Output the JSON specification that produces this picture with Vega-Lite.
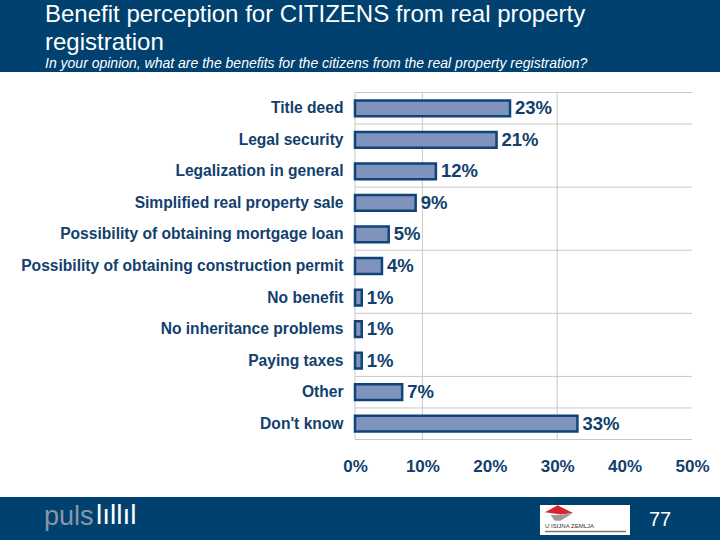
{
  "$schema": "https://vega.github.io/schema/vega-lite/v6.json",
  "autosize": "none",
  "width": 720,
  "height": 425,
  "padding": {"top": 72, "bottom": 43, "left": 0, "right": 0},
  "background": "#004170",
  "view": {"fill": "white", "stroke": null},
  "title": {
    "text": ["Benefit perception for CITIZENS from real property", "registration"],
    "subtitle": "In your opinion, what are the benefits for the citizens from the real property registration?",
    "anchor": "start",
    "frame": "group",
    "dx": 45,
    "offset": 1,
    "font": "Liberation Sans",
    "fontSize": 24,
    "fontWeight": "normal",
    "lineHeight": 28,
    "color": "white",
    "subtitleFont": "Liberation Sans",
    "subtitleFontSize": 14,
    "subtitleFontStyle": "italic",
    "subtitleColor": "white",
    "subtitlePadding": 2
  },
  "datasets": {
    "benefits": [
      {"benefit": "Title deed", "share": 0.23},
      {"benefit": "Legal security", "share": 0.21},
      {"benefit": "Legalization in general", "share": 0.12},
      {"benefit": "Simplified real property sale", "share": 0.09},
      {"benefit": "Possibility of obtaining mortgage loan", "share": 0.05},
      {"benefit": "Possibility of obtaining construction permit", "share": 0.04},
      {"benefit": "No benefit", "share": 0.01},
      {"benefit": "No inheritance problems", "share": 0.01},
      {"benefit": "Paying taxes", "share": 0.01},
      {"benefit": "Other", "share": 0.07},
      {"benefit": "Don't know", "share": 0.33}
    ]
  },
  "data": {"name": "benefits"},
  "layer": [
    {
      "data": {"values": [{"share": 0}, {"share": 0.1}, {"share": 0.3}]},
      "mark": {"type": "rule", "color": "#c8c8c8", "strokeWidth": 1, "y2Offset": 15.75},
      "encoding": {
        "x": {"field": "share", "type": "quantitative"},
        "y": {"datum": "Title deed", "bandPosition": -0.5},
        "y2": {"datum": "Don't know"}
      }
    },
    {
      "data": {"values": [
        {"benefit": "Title deed"}, {"benefit": "Legal security"},
        {"benefit": "Simplified real property sale"},
        {"benefit": "Possibility of obtaining construction permit"},
        {"benefit": "No inheritance problems"}, {"benefit": "Other"}, {"benefit": "Don't know"}
      ]},
      "mark": {"type": "rule", "color": "#c8c8c8", "strokeWidth": 1},
      "encoding": {
        "y": {"field": "benefit", "type": "nominal", "bandPosition": -0.5},
        "x": {"datum": 0},
        "x2": {"datum": 0.5}
      }
    },
    {
      "data": {"values": [{"benefit": "Don't know"}]},
      "mark": {"type": "rule", "color": "#c8c8c8", "strokeWidth": 1},
      "encoding": {
        "y": {"field": "benefit", "type": "nominal", "bandPosition": 1.5},
        "x": {"datum": 0},
        "x2": {"datum": 0.5}
      }
    },
    {
      "mark": {"type": "bar", "fill": "#7f93bd", "stroke": "#0f4478", "strokeWidth": 2.5},
      "encoding": {
        "y": {
          "field": "benefit",
          "type": "nominal",
          "title": null,
          "scale": {
            "domain": ["Title deed", "Legal security", "Legalization in general", "Simplified real property sale", "Possibility of obtaining mortgage loan", "Possibility of obtaining construction permit", "No benefit", "No inheritance problems", "Paying taxes", "Other", "Don't know"],
            "range": [20.5, 367.5],
            "paddingInner": 0.5,
            "paddingOuter": 0.25
          },
          "axis": {
            "offset": -355,
            "domain": false,
            "ticks": false,
            "labelPadding": 12,
            "labelLimit": 400,
            "labelFont": "Liberation Sans",
            "labelFontSize": 15.6,
            "labelFontWeight": "bold",
            "labelColor": "#123f6d"
          }
        },
        "x": {
          "field": "share",
          "type": "quantitative",
          "title": null,
          "scale": {"domain": [0, 0.5], "range": [355, 692]},
          "axis": {
            "values": [0, 0.1, 0.2, 0.3, 0.4, 0.5],
            "format": ".0%",
            "offset": -58,
            "grid": false,
            "domain": false,
            "ticks": false,
            "labelFlush": false,
            "labelOverlap": false,
            "labelPadding": 19,
            "labelFont": "Liberation Sans",
            "labelFontSize": 17,
            "labelFontWeight": "bold",
            "labelColor": "#123f6d"
          }
        }
      }
    },
    {
      "mark": {"type": "text", "align": "left", "baseline": "middle", "dx": 5, "font": "Liberation Sans", "fontSize": 18.5, "fontWeight": "bold", "color": "#123f6d"},
      "encoding": {
        "y": {"field": "benefit", "type": "nominal"},
        "x": {"field": "share", "type": "quantitative"},
        "text": {"field": "share", "type": "quantitative", "format": ".0%"}
      }
    },
    {
      "data": {"values": [{"logo": "puls"}]},
      "mark": {"type": "text", "align": "left", "baseline": "middle", "font": "Liberation Sans", "fontSize": 27, "color": "#8797a6"},
      "encoding": {
        "x": {"value": 44},
        "y": {"value": 445},
        "text": {"field": "logo"}
      }
    },
    {
      "data": {"values": [{"logo": "lıllıl"}]},
      "mark": {"type": "text", "align": "left", "baseline": "middle", "font": "Liberation Sans", "fontSize": 28, "color": "white"},
      "encoding": {
        "x": {"value": 96},
        "y": {"value": 444},
        "text": {"field": "logo"}
      }
    },
    {
      "data": {"values": [{"page": "77"}]},
      "mark": {"type": "text", "align": "left", "baseline": "middle", "font": "Liberation Sans", "fontSize": 20, "color": "white"},
      "encoding": {
        "x": {"value": 649},
        "y": {"value": 448},
        "text": {"field": "page"}
      }
    },
    {
      "data": {"values": [{"box": "sponsor"}]},
      "mark": {"type": "rect", "fill": "white"},
      "encoding": {
        "x": {"value": 540},
        "x2": {"value": 630},
        "y": {"value": 433},
        "y2": {"value": 463}
      }
    },
    {
      "data": {"values": [{"box": "swoosh"}]},
      "mark": {"type": "point", "shape": "M -1 -0.05 L -0.1 -0.55 L 1 0 L 0.1 0.1 Z", "fill": "#d8262c", "filled": true, "stroke": null, "size": 784, "opacity": 1},
      "encoding": {
        "x": {"value": 559},
        "y": {"value": 441}
      }
    },
    {
      "data": {"values": [{"box": "swoosh"}]},
      "mark": {"type": "point", "shape": "M -0.6 0.15 L 0.1 0.15 L 1 0 L 0.1 0.55 L -0.3 0.55 Z", "fill": "#9a9a9a", "filled": true, "stroke": null, "size": 784, "opacity": 1},
      "encoding": {
        "x": {"value": 559},
        "y": {"value": 441}
      }
    },
    {
      "data": {"values": [{"sponsor": "U ISIJNA ZEMLJA"}]},
      "mark": {"type": "text", "align": "left", "baseline": "middle", "font": "Liberation Sans", "fontSize": 6, "color": "#333333"},
      "encoding": {
        "x": {"value": 545},
        "y": {"value": 454},
        "text": {"field": "sponsor"}
      }
    },
    {
      "data": {"values": [{"box": "small print"}]},
      "mark": {"type": "rule", "color": "#777777", "strokeWidth": 1.5},
      "encoding": {
        "x": {"value": 545},
        "x2": {"value": 626},
        "y": {"value": 459.5}
      }
    }
  ]
}
